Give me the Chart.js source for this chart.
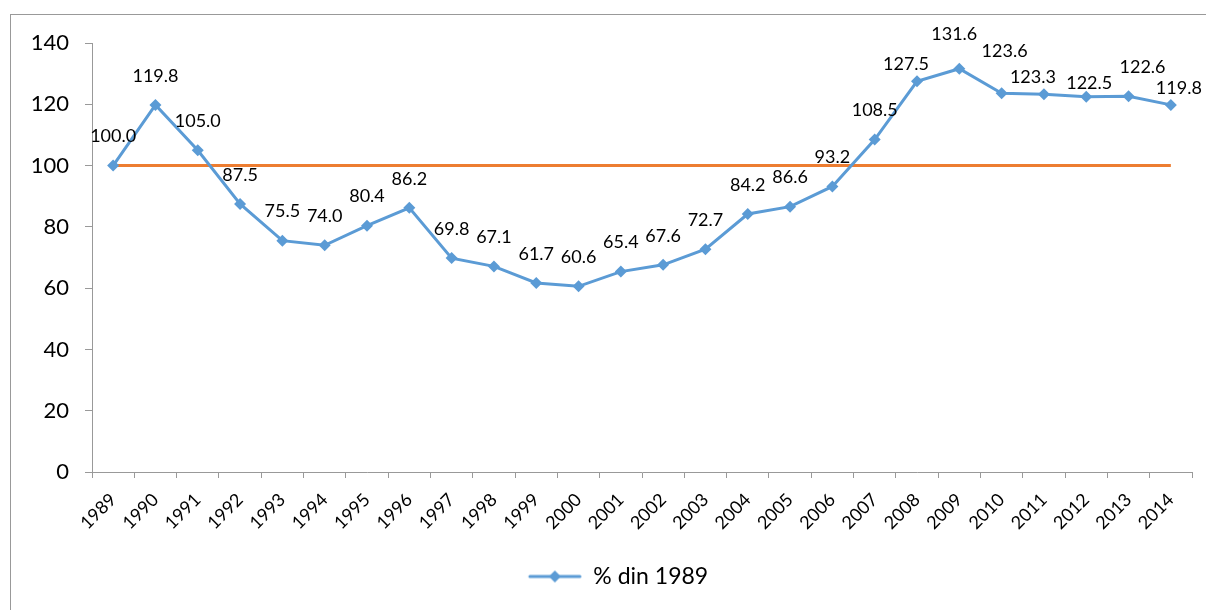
<!DOCTYPE html>
<html>
<head>
<meta charset="utf-8">
<script src="https://cdn.jsdelivr.net/npm/chart.js@4"></script>
<style>
    body { margin: 0; background: #fff; }
    #wrap { position: relative; width: 1206px; height: 610px; overflow: hidden; }
    #frame { position: absolute; left: 10px; top: 14px; width: 1210px; height: 620px; border: 1px solid #999; box-sizing: border-box; }
    canvas { position: absolute; left: 0; top: 0; }
</style>
</head>
<body>
<div id="wrap">
    <div id="frame"></div>
    <canvas id="chart" width="1206" height="610"></canvas>
</div>
<script>
const years = ['1989', '1990', '1991', '1992', '1993', '1994', '1995', '1996', '1997', '1998', '1999', '2000', '2001',
    '2002', '2003', '2004', '2005', '2006', '2007', '2008', '2009', '2010', '2011', '2012', '2013', '2014'];
const pctOf1989 = [100.0, 119.8, 105.0, 87.5, 75.5, 74.0, 80.4, 86.2, 69.8, 67.1, 61.7, 60.6, 65.4,
    67.6, 72.7, 84.2, 86.6, 93.2, 108.5, 127.5, 131.6, 123.6, 123.3, 122.5, 122.6, 119.8];
const baseLine = years.map(() => 100);

const blue = '#5B9BD5';
const orange = '#ED7D31';
const fontName = 'Lato, "Open Sans", sans-serif';


// legend marker: line with a diamond (transparent space on the left shifts the item right)
function legendMarker(){
    const c = document.createElement('canvas');
    c.width = 98; c.height = 14;
    const g = c.getContext('2d');
    g.strokeStyle = blue;
    g.lineWidth = 3;
    g.lineCap = 'round';
    g.beginPath(); g.moveTo(46, 7); g.lineTo(96, 7); g.stroke();
    g.fillStyle = blue;
    g.beginPath(); g.moveTo(71, 1); g.lineTo(77, 7); g.lineTo(71, 13); g.lineTo(65, 7); g.closePath(); g.fill();
    return c;
}
const marker = legendMarker();


// value labels above the points (a few nudged like in the original sheet)
const labelNudge = { 19: [-11, 12], 20: [-5, -6], 21: [3, -13], 22: [-11, 12], 23: [3, 16], 24: [14, 0], 25: [8, 12] };

const valueLabels = {
    id: 'valueLabels',
    afterDatasetsDraw(chart){
        const ctx = chart.ctx;
        const meta = chart.getDatasetMeta(0);
        ctx.save();
        ctx.font = '18px ' + fontName;
        ctx.fillStyle = '#000';
        ctx.textAlign = 'center';
        ctx.textBaseline = 'middle';
        meta.data.forEach((pt, i) => {
            let d = labelNudge[i] || [0, 0];
            ctx.fillText(pctOf1989[i].toFixed(1), pt.x + d[0], pt.y - 29 + d[1]);
        });
        ctx.restore();
    }
};


new Chart(document.getElementById('chart'), {
    type: 'line',
    data: {
        labels: years,
        datasets: [{
            label: '% din 1989',
            data: pctOf1989,
            borderColor: blue,
            backgroundColor: blue,
            borderWidth: 3,
            pointStyle: 'rectRot',
            pointRadius: 6,
            pointBackgroundColor: blue,
            pointBorderWidth: 0,
            tension: 0
        }, {
            label: 'base',
            data: baseLine,
            borderColor: orange,
            borderWidth: 3,
            pointRadius: 0,
            tension: 0
        }]
    },
    plugins: [valueLabels],
    options: {
        responsive: false,
        animation: false,
        layout: { padding: { left: 0, right: 14, top: 43, bottom: 12 } },
        scales: {
            x: {
                offset: true,
                grid: { display: true, drawOnChartArea: false, offset: true, color: '#999', tickLength: 6 },
                border: { display: true, color: '#999' },
                ticks: { color: '#000', font: { family: fontName, size: 18 }, minRotation: 45, maxRotation: 45, padding: 11, autoSkip: false },
                afterFit(scale){ scale.height = 83; }
            },
            y: {
                min: 0,
                max: 140,
                grid: { display: true, drawOnChartArea: false, color: '#999', tickLength: 7 },
                border: { display: true, color: '#999' },
                ticks: { stepSize: 20, color: '#000', font: { family: fontName, size: 22 }, padding: 16 },
                afterFit(scale){ scale.width = 92; }
            }
        },
        plugins: {
            tooltip: { enabled: false },
            legend: {
                position: 'bottom',
                labels: {
                    usePointStyle: true,
                    pointStyleWidth: 98,
                    color: '#000',
                    font: { family: fontName, size: 23 },
                    padding: 10,
                    generateLabels(chart){
                        return [{
                            text: '% din 1989',
                            pointStyle: marker,
                            fillStyle: blue,
                            strokeStyle: blue,
                            lineWidth: 0,
                            datasetIndex: 0,
                            fontColor: '#000'
                        }];
                    }
                }
            }
        }
    }
});
</script>
</body>
</html>
